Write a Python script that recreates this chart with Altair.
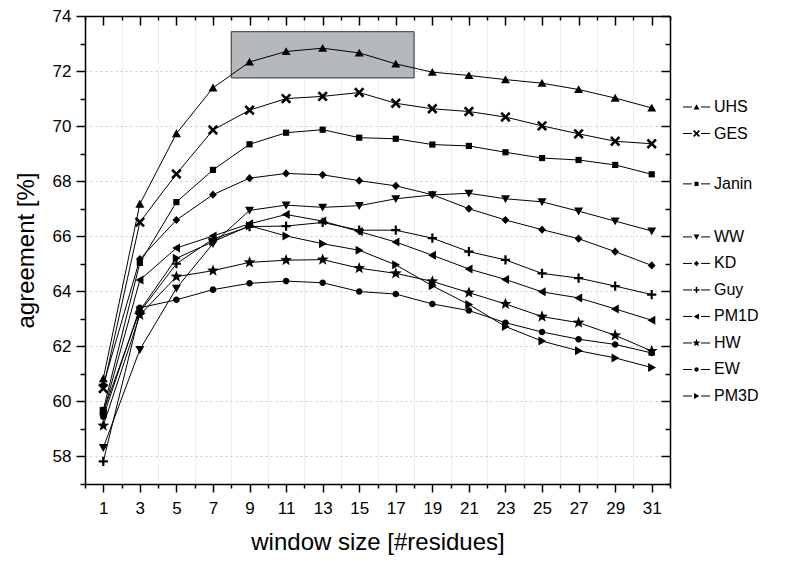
import math
import altair as alt
import pandas as pd

# ---------------- data ----------------
window = [1, 3, 5, 7, 9, 11, 13, 15, 17, 19, 21, 23, 25, 27, 29, 31]
series_names = ["UHS", "GES", "Janin", "WW", "KD", "Guy", "PM1D", "HW", "EW", "PM3D"]

UHS = [60.83, 67.17, 69.73, 71.39, 72.33, 72.71, 72.83, 72.66, 72.26, 71.96, 71.84, 71.69, 71.56, 71.33, 71.02, 70.66]
GES = [60.47, 66.51, 68.26, 69.86, 70.58, 71.00, 71.08, 71.22, 70.83, 70.63, 70.53, 70.33, 70.01, 69.72, 69.45, 69.36]
Janin = [59.69, 65.03, 67.24, 68.41, 69.34, 69.76, 69.87, 69.58, 69.54, 69.33, 69.28, 69.05, 68.84, 68.77, 68.59, 68.25]
WW = [58.32, 61.88, 64.11, 65.73, 66.94, 67.13, 67.05, 67.11, 67.36, 67.50, 67.56, 67.36, 67.25, 66.91, 66.55, 66.19]
KD = [60.60, 65.17, 66.59, 67.51, 68.11, 68.28, 68.23, 68.02, 67.83, 67.51, 67.00, 66.59, 66.24, 65.91, 65.44, 64.94]
Guy = [57.82, 63.25, 65.00, 65.90, 66.35, 66.37, 66.50, 66.22, 66.22, 65.93, 65.44, 65.14, 64.65, 64.48, 64.19, 63.88]
PM1D = [59.57, 64.41, 65.57, 66.01, 66.45, 66.79, 66.55, 66.17, 65.79, 65.31, 64.81, 64.43, 63.98, 63.76, 63.36, 62.95]
HW = [59.12, 63.14, 64.53, 64.75, 65.05, 65.13, 65.15, 64.84, 64.65, 64.36, 63.95, 63.54, 63.08, 62.86, 62.40, 61.83]
EW = [59.44, 63.40, 63.69, 64.06, 64.29, 64.37, 64.31, 63.99, 63.90, 63.54, 63.30, 62.86, 62.52, 62.26, 62.07, 61.76]
PM3D = [59.63, 63.30, 65.20, 65.80, 66.38, 66.01, 65.73, 65.49, 64.96, 64.20, 63.52, 62.72, 62.19, 61.84, 61.58, 61.23]
series_values = [UHS, GES, Janin, WW, KD, Guy, PM1D, HW, EW, PM3D]

box_window = [8, 18]
box_agreement = [71.75, 73.43]

x_domain = [0, 32]
y_domain = [57, 74]
x_major = list(range(1, 32, 2))
x_minor = list(range(0, 33, 2))
y_major = list(range(58, 75, 2))
y_minor = list(range(57, 74, 2))

# ---------------- tables ----------------
rows = []
for name, vals in zip(series_names, series_values):
    for w, v in zip(window, vals):
        rows.append({"series": name, "window": w, "agreement": v})
df = pd.DataFrame(rows)

box_df = pd.DataFrame({"x0": [box_window[0]], "x1": [box_window[1]],
                       "y0": [box_agreement[0]], "y1": [box_agreement[1]]})

# legend layout (style)
legend_gap_before = {"Janin": 1.9, "WW": 2.0}
slots = []
s = 0.0
for i, name in enumerate(series_names):
    if i > 0:
        s += legend_gap_before.get(name, 1.0)
    slots.append(s)
leg_df = pd.DataFrame({"series": series_names, "slot": slots})

# ---------------- marker shapes ----------------
def poly(pts):
    return "M" + "L".join(f"{x:.3f},{y:.3f}" for x, y in pts) + "Z"

def plus_pts(w, L):
    return [(w, -L), (w, -w), (L, -w), (L, w), (w, w), (w, L),
            (-w, L), (-w, w), (-L, w), (-L, -w), (-w, -w), (-w, -L)]

def rot(pts, deg):
    a = math.radians(deg)
    return [(x * math.cos(a) - y * math.sin(a), x * math.sin(a) + y * math.cos(a)) for x, y in pts]

def star(ro, ri):
    pts = []
    for k in range(10):
        r = ro if k % 2 == 0 else ri
        a = math.radians(-90 + 36 * k)
        pts.append((r * math.cos(a), r * math.sin(a)))
    return poly(pts)

tri_up = poly([(0, -0.85), (0.9, 0.72), (-0.9, 0.72)])
tri_down = poly([(0, 0.85), (0.9, -0.72), (-0.9, -0.72)])
tri_left = poly([(-0.85, 0), (0.72, -0.9), (0.72, 0.9)])
tri_right = poly([(0.85, 0), (-0.72, -0.9), (-0.72, 0.9)])
square = poly([(-0.62, -0.62), (0.62, -0.62), (0.62, 0.62), (-0.62, 0.62)])
diamond = poly([(0, -0.82), (0.78, 0), (0, 0.82), (-0.78, 0)])
circle = "M0.66,0A0.66,0.66,0,1,1,-0.66,0A0.66,0.66,0,1,1,0.66,0Z"
plus = poly(plus_pts(0.22, 0.92))
xmark = poly(rot(plus_pts(0.26, 1.2), 45))
starp = star(1.25, 0.52)

shape_range = [tri_up, xmark, square, tri_down, diamond, plus, tri_left, starp, circle, tri_right]
shape_scale = alt.Scale(domain=series_names, range=shape_range)

W, H = 585, 468
FONT = "Liberation Sans"

xs = alt.Scale(domain=x_domain, nice=False, zero=False)
ys = alt.Scale(domain=y_domain, nice=False, zero=False)

# ---------------- layers ----------------
box = alt.Chart(box_df).mark_rect(fill="#b5b8bb", stroke="#333333", strokeWidth=1).encode(
    x=alt.X("x0:Q", scale=xs, axis=alt.Axis(orient="bottom", offset=-H, values=x_major, tickSize=9,
                                            labels=False, grid=False, domain=True, title=None)),
    x2="x1:Q",
    y=alt.Y("y0:Q", scale=ys, axis=alt.Axis(orient="left", offset=-W, values=y_major, tickSize=9,
                                            labels=False, grid=False, domain=True, title=None)),
    y2="y1:Q",
)

lines = alt.Chart(df).mark_line(color="black", strokeWidth=1).encode(
    x=alt.X("window:Q", scale=xs, axis=alt.Axis(orient="bottom", values=x_major, tickSize=8,
                                                labelPadding=8, grid=False, domain=True,
                                                title="window size [#residues]", titlePadding=14)),
    y=alt.Y("agreement:Q", scale=ys, axis=alt.Axis(orient="left", values=y_major, tickSize=9,
                                                   labelPadding=5, grid=True, gridDash=[2, 3],
                                                   gridColor="#c8c8c8", domain=True,
                                                   title="agreement [%]", titlePadding=14)),
    detail="series:N",
)

points = alt.Chart(df).mark_point(filled=True, color="black", opacity=1, size=100).encode(
    x=alt.X("window:Q", scale=xs, axis=alt.Axis(orient="bottom", values=x_minor, tickSize=4,
                                                labels=False, domain=False, grid=True,
                                                gridColor="#eeeeee", title=None)),
    y=alt.Y("agreement:Q", scale=ys, axis=alt.Axis(orient="left", values=y_minor, tickSize=5,
                                                   labels=False, domain=False, grid=False, title=None)),
    shape=alt.Shape("series:N", scale=shape_scale, legend=None),
)

ghost = alt.Chart(df).mark_point(opacity=0).encode(
    x=alt.X("window:Q", scale=xs, axis=alt.Axis(orient="bottom", offset=-H, values=x_minor, tickSize=4,
                                                labels=False, domain=False, grid=False, title=None)),
    y=alt.Y("agreement:Q", scale=ys, axis=alt.Axis(orient="left", offset=-W, values=y_minor, tickSize=5,
                                                   labels=False, domain=False, grid=False, title=None)),
)

leg_y = alt.Y("slot:Q", scale=alt.Scale(domain=[0, slots[-1]], range=[91, 380]), axis=None)
leg_base = alt.Chart(leg_df)
leg_r1 = leg_base.mark_rule(color="black", strokeWidth=1).encode(
    x=alt.value(598), x2=alt.value(607), y=leg_y)
leg_r2 = leg_base.mark_rule(color="black", strokeWidth=1).encode(
    x=alt.value(616), x2=alt.value(625), y=leg_y)
leg_pt = leg_base.mark_point(filled=True, color="black", opacity=1, size=45).encode(
    x=alt.value(611.5), y=leg_y, shape=alt.Shape("series:N", scale=shape_scale, legend=None))
leg_tx = leg_base.mark_text(align="left", baseline="middle", font=FONT, fontSize=16, color="black").encode(
    x=alt.value(629), y=leg_y, text="series:N")

chart = alt.layer(box, lines, points, ghost, leg_r1, leg_r2, leg_pt, leg_tx).resolve_scale(
    y="independent"
).resolve_axis(
    x="independent", y="independent"
).properties(
    width=W, height=H,
    autosize=alt.AutoSizeParams(type="none"),
    padding={"left": 77, "top": 8, "right": 110, "bottom": 78},
).configure_axis(
    labelFont=FONT, labelFontSize=17, labelColor="black",
    titleFont=FONT, titleFontSize=24, titleFontWeight="normal", titleColor="black",
    tickColor="black", tickWidth=1.5, domainColor="black", domainWidth=1.5,
).configure_view(stroke=None)

chart.save("out.html", embed_options={"renderer": "svg", "actions": False})
